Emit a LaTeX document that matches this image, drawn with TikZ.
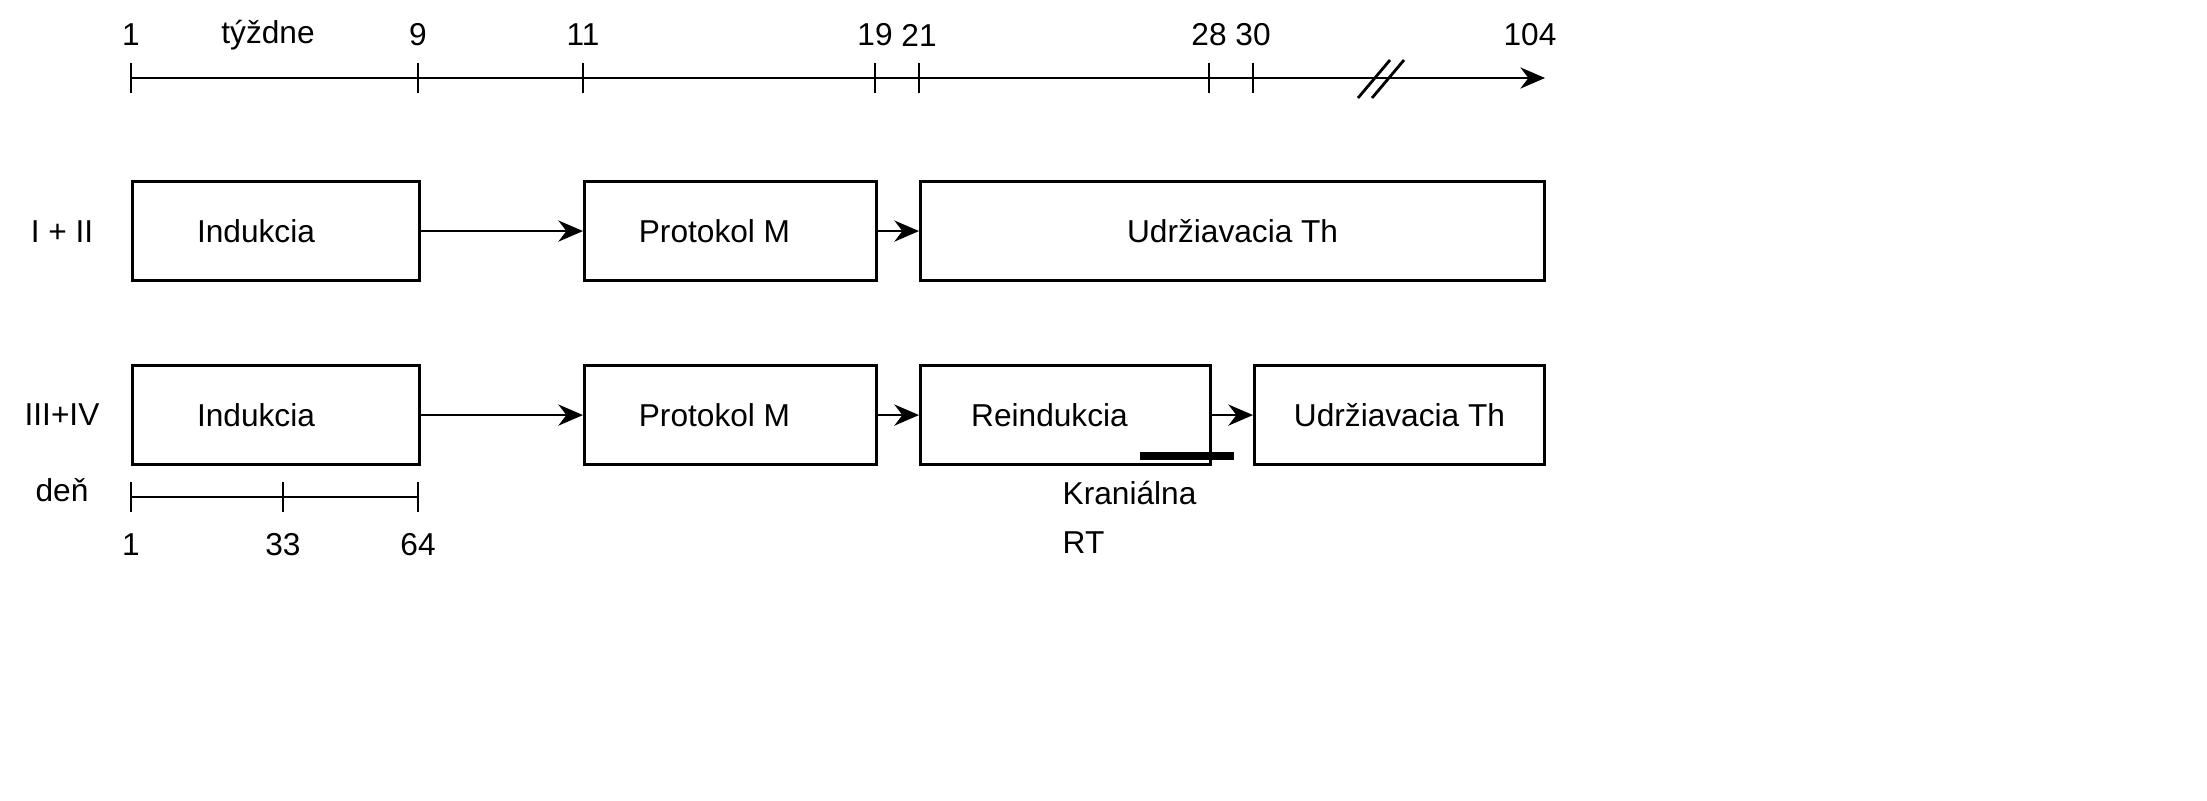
\documentclass[tikz,border=0pt]{standalone}
\usepackage{fontspec}
\setmainfont{Liberation Sans}
\usetikzlibrary{arrows.meta,positioning}
\tikzset{
  phase/.style = {draw, thick, minimum height = 0.99cm, anchor = south west, inner sep = 0pt},
  flow/.style = {thick, -{Stealth[length = 7pt, width = 6pt]}},
  tick/.style = {thick},
  lab/.style = {font = \fontsize{9}{11}\selectfont}
}
\begin{document}
\begin{tikzpicture}[x = 0.01cm, y = -0.01cm, lab]
    \useasboundingbox (0,0) rectangle (2207,800);
    % time axis in weeks
    \coordinate (T0) at (131,78);
    \coordinate (TE) at (1545,78);
    \draw[flow] (T0) -- (TE);
    \foreach \x/\w in {131/1, 418/9, 583/11, 875/19, 919/21, 1209/28, 1253/30} {
        \draw[tick] (\x,63) -- (\x,93);
        \node (W\w) at (\x,35) {\w};
    }
    \node (W104) at (1530,35) {104};
    \node (weeks) at (268,35) {týždne};
    \draw[thick] (1358,98) -- (1390,60);
    \draw[thick] (1372,98) -- (1404,60);
    % arm I + II
    \node (arm1) at (62,232) {I + II};
    \node[phase, minimum width = 2.87cm] (A1) at (131,282) {};
    \node at (A1.center) [xshift = -0.2cm] {Indukcia};
    \node[phase, minimum width = 2.92cm] (A2) at (583,282) {};
    \node at (A2.center) [xshift = -0.16cm] {Protokol M};
    \node[phase, minimum width = 6.24cm] (A3) at (919,282) {};
    \node at (A3.center) {Udržiavacia Th};
    \draw[flow] (A1.east) -- (A2.west);
    \draw[flow] (A2.east) -- (A3.west);
    % arm III + IV
    \node (arm2) at (62,415) {III+IV};
    \node[phase, minimum width = 2.87cm] (B1) at (131,466) {};
    \node at (B1.center) [xshift = -0.2cm] {Indukcia};
    \node[phase, minimum width = 2.92cm] (B2) at (583,466) {};
    \node at (B2.center) [xshift = -0.16cm] {Protokol M};
    \node[phase, minimum width = 2.90cm] (B3) at (919,466) {};
    \node at (B3.center) [xshift = -0.16cm] {Reindukcia};
    \node[phase, minimum width = 2.90cm] (B4) at (1253,466) {};
    \node at (B4.center) {Udržiavacia Th};
    \draw[flow] (B1.east) -- (B2.west);
    \draw[flow] (B2.east) -- (B3.west);
    \draw[flow] (B3.east) -- (B4.west);
    % cranial RT
    \coordinate (RT0) at (1140,456);
    \coordinate (RT1) at (1234,456);
    \draw[line width = 2.5pt] (RT0) -- (RT1);
    \node[align = left, anchor = north west, inner sep = 0pt] (rt) at (1062,480) {Kraniálna\\[3pt]RT};
    % day axis
    \node (days) at (62,490) {deň};
    \coordinate (D0) at (131,497);
    \coordinate (D1) at (418,497);
    \draw[thick] (D0) -- (D1);
    \foreach \x/\d in {131/1, 283/33, 418/64} {
        \draw[tick] (\x,482) -- (\x,512);
        \node (D\d) at (\x,545) {\d};
    }
\end{tikzpicture}
\end{document}
